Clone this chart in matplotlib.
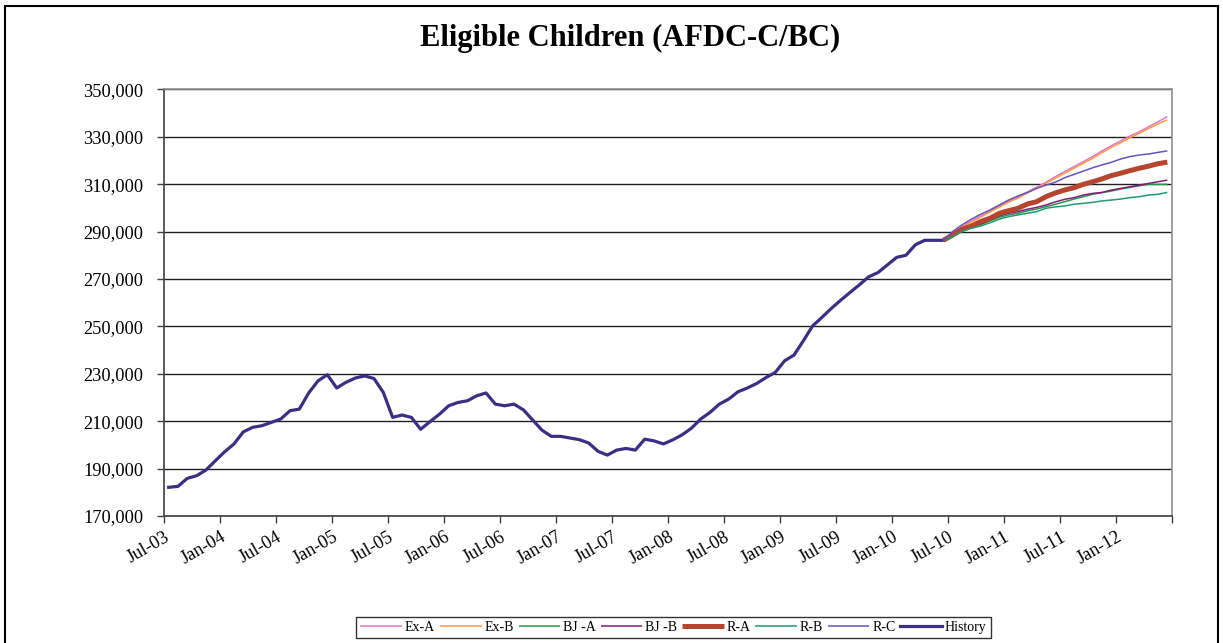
import matplotlib.pyplot as plt
from matplotlib.patches import Rectangle

# monthly history, Jul-03 .. Jun-10 (thousands)
history = [182.1, 182.5, 185.9, 187.0, 189.4, 193.3, 197.1, 200.4, 205.5, 207.4,
           208.1, 209.5, 210.9, 214.4, 215.1, 221.9, 227.0, 229.6, 224.0, 226.4,
           228.2, 229.1, 228.0, 222.1, 211.6, 212.6, 211.6, 206.6, 209.8, 212.9,
           216.5, 217.9, 218.6, 220.7, 221.9, 217.2, 216.5, 217.2, 214.8, 210.5,
           206.2, 203.6, 203.6, 202.9, 202.2, 200.8, 197.3, 195.7, 197.8, 198.5,
           197.8, 202.4, 201.7, 200.4, 202.1, 204.2, 207.0, 210.9, 213.7, 217.2,
           219.3, 222.4, 224.0, 225.9, 228.4, 230.6, 235.5, 237.9, 243.9, 250.2,
           253.8, 257.6, 261.0, 264.3, 267.5, 270.9, 272.7, 275.9, 279.1, 280.0,
           284.4, 286.3, 286.3, 286.3]

# forecasts, Jun-10 .. Jun-12 (thousands)
ex_a = [286.3, 289.3, 292.0, 294.4, 296.5, 298.6, 300.7, 302.8, 304.5, 306.6,
        308.7, 310.8, 313.1, 315.3, 317.4, 319.5, 321.6, 324.0, 326.2, 328.2,
        330.3, 332.1, 334.2, 336.3, 338.5]
ex_b = [286.3, 289.1, 291.6, 294.0, 296.1, 298.2, 300.3, 302.4, 304.1, 306.2,
        308.3, 310.4, 312.5, 314.6, 316.7, 318.8, 320.9, 323.3, 325.5, 327.5,
        329.6, 331.4, 333.5, 335.4, 337.1]
bj_a = [286.3, 288.1, 290.4, 291.8, 292.9, 294.5, 296.0, 297.0, 297.7, 298.7,
        299.5, 300.5, 301.5, 302.6, 303.7, 304.7, 305.7, 306.4, 307.1, 307.9,
        308.6, 309.3, 309.9, 309.9, 309.9]
bj_b = [286.3, 288.1, 290.7, 292.1, 293.2, 294.9, 296.6, 297.7, 298.4, 299.4,
        300.2, 301.2, 302.5, 303.6, 304.3, 305.4, 306.1, 306.5, 307.5, 308.2,
        308.9, 309.6, 310.3, 311.0, 311.7]
r_a = [286.3, 288.5, 290.9, 292.3, 294.2, 295.6, 297.7, 298.8, 299.8, 301.6,
       302.6, 304.7, 306.3, 307.5, 308.5, 309.9, 311.0, 312.2, 313.6, 314.6,
       315.7, 316.7, 317.6, 318.6, 319.3]
r_b = [286.3, 287.8, 290.0, 291.4, 292.3, 293.7, 295.2, 296.3, 297.0, 297.7,
       298.4, 299.8, 300.4, 300.8, 301.5, 301.9, 302.3, 302.9, 303.3, 303.7,
       304.3, 304.7, 305.4, 305.7, 306.5]
r_c = [286.3, 290.0, 292.8, 295.2, 297.3, 299.1, 301.2, 303.3, 305.0, 306.5,
       308.2, 309.6, 310.8, 312.7, 314.1, 315.5, 316.9, 318.1, 319.2, 320.6,
       321.6, 322.3, 322.7, 323.4, 324.0]

tick_labels = ['Jul-03', 'Jan-04', 'Jul-04', 'Jan-05', 'Jul-05', 'Jan-06',
               'Jul-06', 'Jan-07', 'Jul-07', 'Jan-08', 'Jul-08', 'Jan-09',
               'Jul-09', 'Jan-10', 'Jul-10', 'Jan-11', 'Jul-11', 'Jan-12']
n_months = 108

plt.rcParams['font.family'] = 'Liberation Serif'

fig = plt.figure(figsize=(12.23, 6.43), dpi=100)
ax = fig.add_axes([164 / 1223, 1 - 516 / 643, 1008 / 1223, 426.7 / 643])

hx = list(range(len(history)))
fx = list(range(len(history) - 1, len(history) - 1 + len(ex_a)))

series = [
    ('Ex-A', ex_a, '#dd77cc', 1.1),
    ('Ex-B', ex_b, '#ff9944', 1.1),
    ('BJ -A', bj_a, '#229944', 1.1),
    ('BJ -B', bj_b, '#8b1a80', 1.1),
    ('R-A', r_a, '#b5452c', 3.6),
    ('R-B', r_b, '#1f9a78', 1.1),
    ('R-C', r_c, '#6a50c0', 1.1),
]
for name, vals, col, lw in series:
    ax.plot(fx, [v * 1000 for v in vals], color=col, lw=lw, label=name,
            solid_capstyle='butt', zorder=3)
ax.plot(hx, [v * 1000 for v in history], color='#3a2f85', lw=2.3,
        label='History', zorder=2)

ax.set_xlim(-0.5, n_months - 0.5)
ax.set_ylim(170000, 350000)
ax.set_yticks(range(170000, 350001, 20000))
ax.set_yticklabels(['{:,}'.format(v) for v in range(170000, 350001, 20000)],
                   fontsize=13.2)
ax.yaxis.grid(True, color='#202020', lw=1)
ax.set_axisbelow(True)

ax.set_xticks([i - 0.5 for i in range(0, n_months + 1, 6)])
ax.set_xticklabels(tick_labels + [''], fontsize=13.2, rotation=30,
                   ha='right', va='top', rotation_mode='anchor')
ax.tick_params(axis='both', direction='out', length=5, width=1, color='#404040')
ax.tick_params(axis='x', pad=4)
ax.tick_params(axis='y', pad=10)

ax.spines['top'].set_color('#909090')
ax.spines['right'].set_color('#909090')
ax.spines['left'].set_color('#404040')
ax.spines['bottom'].set_color('#404040')
for s in ax.spines.values():
    s.set_linewidth(1.2)

fig.text(0.515, 1 - 38 / 643, 'Eligible Children (AFDC-C/BC)', ha='center',
         va='center', fontsize=22, fontweight='bold')

leg = fig.legend(loc='center', bbox_to_anchor=(673.5 / 1223, 1 - 627.5 / 643),
                 ncol=8, fontsize=10, frameon=True, fancybox=False,
                 handlelength=3.0, handletextpad=0.2, columnspacing=0.35,
                 borderpad=0.3, edgecolor='black')
leg.get_frame().set_linewidth(1)

# outer chart border
fig.patches.append(Rectangle((5 / 1223, -0.1), 1213 / 1223, 1.1 - 6 / 643,
                             transform=fig.transFigure, fill=False,
                             edgecolor='black', lw=1.5))

fig.savefig('out.png', dpi=100)
